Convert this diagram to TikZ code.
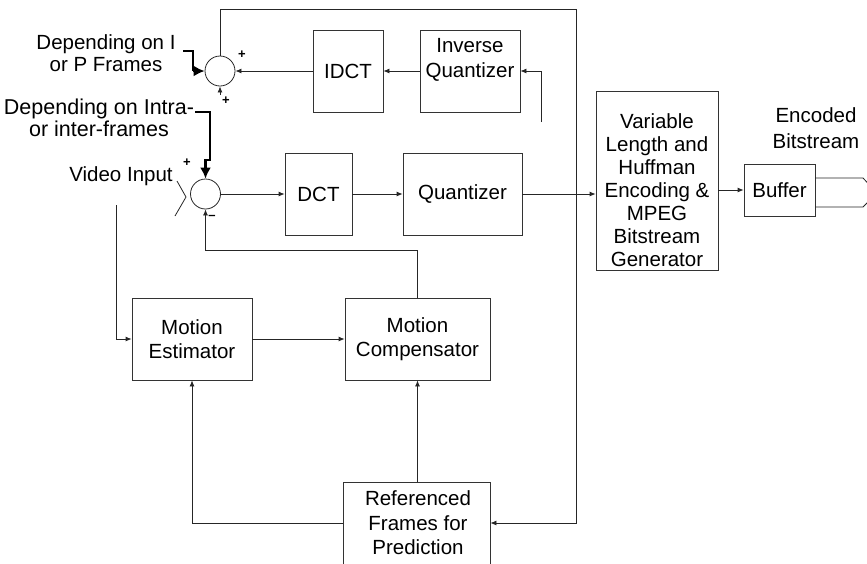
\documentclass[tikz,border=0pt]{standalone}
\usepackage{fontspec}
\setmainfont{Liberation Sans}
\usetikzlibrary{arrows.meta}
\begin{document}
\begin{tikzpicture}[x=1pt,y=-1pt,
  txt/.style={font=\fontsize{20.5}{24}\selectfont,align=center,inner sep=0pt},
  box/.style={txt,draw=black!80,line width=0.8pt},
  sumnode/.style={circle,draw=black!85,line width=0.8pt,minimum size=30pt,inner sep=0pt},
  sgn/.style={font=\fontsize{13}{13}\selectfont\bfseries,inner sep=0pt},
  wire/.style={draw=black!85,line width=0.8pt},
  arr/.style={wire,-{Latex[length=6pt,width=5pt]}},
  heavy/.style={draw=black,line width=2.8pt},
  heavyarr/.style={heavy,-{Latex[length=11pt,width=11pt]}},
]
\useasboundingbox (0,0) rectangle (867,563);
\clip (0,0) rectangle (867,563);

% adders
\node[sumnode] (sumA) at (220,71) {};
\node[sumnode] (sumB) at (205.5,194) {};

% processing blocks
\node[box,minimum width=70pt,minimum height=82pt] (idct) at (348,71) {IDCT};
\node[box,minimum width=100pt,minimum height=82pt] (iq) at (470,71) {};
\node[txt,font=\fontsize{20.5}{25}\selectfont] (iqT) at (470,60) {Inverse\\Quantizer};
\node[box,minimum width=67pt,minimum height=82pt] (dct) at (318.5,194) {DCT};
\node[box,minimum width=119pt,minimum height=82pt] (quant) at (462.5,194) {Quantizer};
\node[box,minimum width=122pt,minimum height=179pt] (vlc) at (657,180.5) {};
\node[txt,font=\fontsize{20.5}{23}\selectfont] (vlcT) at (657,190)
  {Variable\\Length and\\Huffman\\Encoding \&\\MPEG\\Bitstream\\Generator};
\node[box,minimum width=71pt,minimum height=52pt] (buffer) at (779.5,190) {Buffer};
\node[box,minimum width=120pt,minimum height=82pt] (me) at (192,339) {Motion\\Estimator};
\node[box,minimum width=145pt,minimum height=82pt] (mc) at (417.5,339) {Motion\\Compensator};
\node[box,minimum width=147pt,minimum height=93pt] (ref) at (416.5,528.5) {};
\node[txt,font=\fontsize{20.5}{24.5}\selectfont] (refT) at (418,523) {Referenced\\Frames for\\Prediction};

% labels
\node[txt,font=\fontsize{20.5}{22.5}\selectfont] (ipT) at (106,53) {Depending on I\\or P Frames};
\node[txt,font=\fontsize{21.5}{22}\selectfont] (intraT) at (99,118) {Depending on Intra-\\or inter-frames};
\node[txt] (vinT) at (121,176) {Video Input};
\node[txt,font=\fontsize{20.5}{26}\selectfont] (outT) at (816,128) {Encoded\\Bitstream};

% signs at the adders
\node[sgn] (pA1) at (242,55) {+};
\node[sgn] (pA2) at (226,101) {+};
\node[sgn] (pB1) at (187,163) {+};
\node[sgn] (mB) at (212,217) {--};

% free ends
\coordinate (ipS) at (183,51);
\coordinate (intraS) at (195,112);
\coordinate (iqIn) at (541,122);
\coordinate (sumAin) at (220,95);
\coordinate (vin) at (116,205);

% mode switches
\draw[heavy] (ipS) -- (193,51) -- (193,71);
\draw[heavyarr] (193,71) -- (sumA.west);
\draw[heavyarr] (intraS) -- (210,112) -- (210,160) -- (205.5,160) -- (sumB.north);

% reconstruction loop
\draw[arr] (iqIn) -- (541,71) -- (iq.east);
\draw[arr] (iq.west) -- (idct.east);
\draw[arr] (idct.west) -- (sumA.east);
\draw[arr] (sumAin) -- (sumA.south);
\draw[arr] (sumA.north) -- (220,9) -- (576,9) -- (576,523) -- (ref.east |- refT);

% forward path
\draw[wire] (177,181) -- (186,197) -- (175,216);
\draw[arr] (sumB.east) -- (dct.west);
\draw[arr] (dct) -- (quant);
\draw[arr] (quant) -- (vlc.west |- quant);
\draw[arr] (vlc.east |- buffer) -- (buffer.west);
\draw[wire] (buffer.east |- 0,178) -- (863,178) -- (877,193);
\draw[wire] (buffer.east |- 0,207) -- (863,207) -- (877,193);

% motion estimation and compensation
\draw[arr] (vin) -- (116,339) -- (me.west);
\draw[arr] (me.east) -- (mc.west);
\draw[arr] (ref.west |- refT) -- (me.south |- refT) -- (me.south);
\draw[arr] (mc.south |- ref.north) -- (mc.south);
\draw[arr] (mc.north) -- (mc.north |- 0,250) -- (sumB.south |- 0,250) -- (sumB.south);
\end{tikzpicture}
\end{document}
